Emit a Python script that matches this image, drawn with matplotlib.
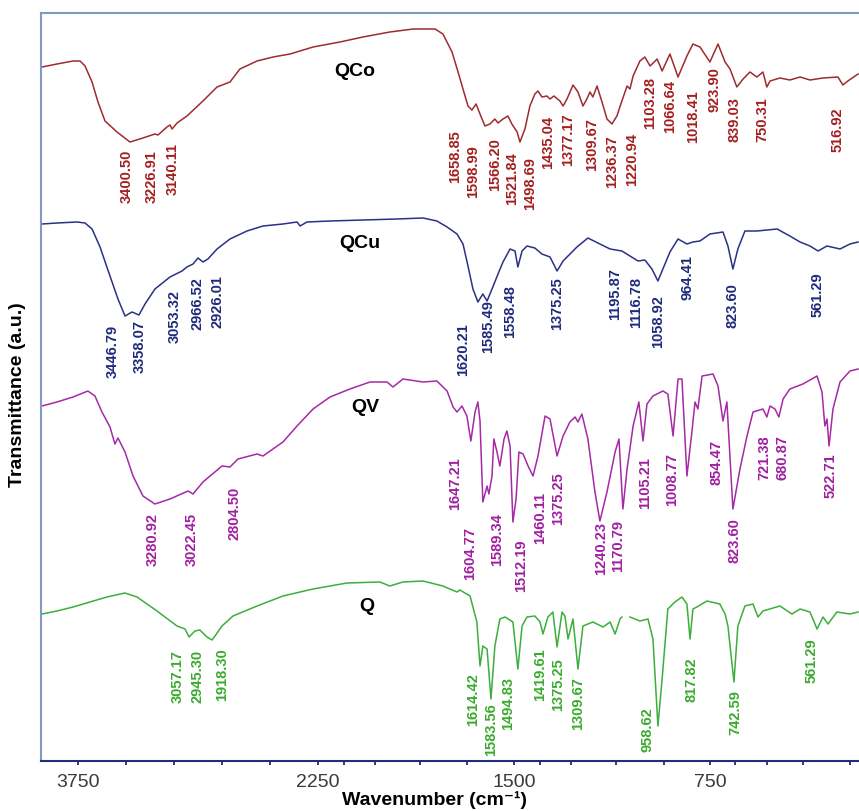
#!/usr/bin/env python3
# -*- coding: utf-8 -*-

"""
FTIR-Spektren Q, QV, QCu, QCo – gestapelt, Transmittance (a.u.) gegen Wellenzahl.
Die Wellenzahl-Achse ist oberhalb 2250 cm-1 gestaucht (wie im Original).
"""

import numpy as np
import matplotlib
matplotlib.use("Agg")
import matplotlib.pyplot as plt

nan = float("nan")

# --- Spektren (Wellenzahl cm-1, Transmittance a.u. inkl. Versatz) ---
QCo_wn = [3975, 3881, 3781, 3737, 3706, 3662, 3625, 3581, 3506, 3425, 3344, 3269, 3250, 3194, 3175,
          3162, 3131, 3069, 2969, 2881, 2800, 2738, 2631, 2531, 2425, 2281, 2166, 2078, 1975, 1886,
          1802, 1772, 1737, 1714, 1695, 1676, 1661, 1645, 1630, 1611, 1592, 1573, 1561, 1542, 1523,
          1508, 1488, 1477, 1458, 1439, 1420, 1408, 1393, 1374, 1362, 1347, 1324, 1312, 1297, 1274,
          1255, 1236, 1221, 1209, 1198, 1182, 1163, 1144, 1125, 1106, 1087, 1067, 1056, 1044, 1018,
          999, 979, 952, 933, 903, 872, 838, 815, 788, 750, 719, 692, 673, 647, 623,
          597, 570, 547, 532, 520, 482, 444, 405, 367, 317, 260, 241, 222, 183]
QCo_T = [694, 697, 700, 700, 695, 679, 659, 640, 629, 619, 623, 627, 626, 634, 636,
         632, 638, 645, 660, 674, 679, 692, 700, 704, 707, 714, 719, 724, 729, 732,
         732, 727, 709, 689, 672, 655, 651, 657, 647, 635, 637, 642, 638, 642, 645,
         637, 629, 619, 632, 655, 667, 670, 664, 665, 662, 665, 660, 655, 662, 676,
         669, 655, 662, 669, 664, 675, 659, 642, 637, 645, 660, 675, 672, 685, 700,
         704, 695, 702, 690, 707, 684, 705, 717, 714, 699, 717, 699, 692, 674, 682,
         689, 684, 689, 674, 680, 683, 681, 684, 681, 683, 684, 676, 680, 687]

QCu_wn = [3975, 3881, 3756, 3706, 3662, 3612, 3550, 3500, 3456, 3412, 3369, 3331, 3269, 3175, 3100,
          3069, 3031, 3000, 2969, 2938, 2881, 2800, 2694, 2594, 2469, 2381, 2362, 2319, 2204, 2078,
          1948, 1848, 1795, 1756, 1718, 1695, 1676, 1657, 1638, 1619, 1603, 1584, 1561, 1542, 1515,
          1496, 1485, 1469, 1450, 1420, 1393, 1362, 1335, 1312, 1259, 1217, 1171, 1132, 1087, 1056,
          1025, 999, 972, 949, 930, 903, 872, 838, 815, 788, 750, 700, 681, 662, 643,
          616, 570, 493, 444, 405, 367, 336, 302, 252, 214, 183]
QCu_T = [537, 538, 539, 538, 532, 514, 485, 462, 445, 449, 446, 457, 472, 484, 490,
         494, 497, 503, 499, 502, 512, 522, 530, 535, 537, 539, 535, 539, 540, 541,
         542, 543, 540, 534, 527, 517, 495, 472, 459, 467, 460, 472, 487, 499, 512,
         510, 494, 510, 515, 513, 507, 504, 490, 500, 514, 523, 517, 512, 510, 505,
         500, 501, 492, 480, 492, 509, 522, 517, 519, 520, 527, 529, 515, 492, 512,
         530, 530, 532, 525, 519, 515, 510, 515, 512, 517, 519]

QV_wn = [3975, 3881, 3781, 3688, 3644, 3600, 3550, 3519, 3500, 3456, 3406, 3344, 3269, 3175, 3062,
         3031, 2969, 2850, 2800, 2750, 2631, 2594, 2469, 2381, 2281, 2204, 2128, 2051, 1986, 1963,
         1925, 1848, 1795, 1756, 1733, 1718, 1699, 1680, 1665, 1649, 1638, 1630, 1619, 1603, 1596,
         1584, 1577, 1565, 1554, 1538, 1527, 1515, 1504, 1492, 1481, 1465, 1446, 1427, 1408, 1381,
         1362, 1335, 1312, 1286, 1266, 1255, 1240, 1217, 1190, 1171, 1144, 1113, 1098, 1083, 1067,
         1044, 1022, 1006, 991, 968, 930, 911, 891, 872, 857, 838, 819, 807, 796, 780,
         738, 719, 700, 685, 662, 635, 608, 585, 547, 532, 520, 501, 486, 470, 444,
         394, 340, 321, 310, 302, 294, 279, 252, 214, 183]
QV_T = [355, 359, 364, 370, 365, 349, 334, 317, 323, 309, 285, 265, 257, 262, 270,
        267, 279, 295, 294, 302, 307, 305, 319, 335, 352, 364, 372, 379, 379, 374,
        382, 379, 380, 370, 354, 349, 355, 345, 320, 349, 359, 340, 259, 275, 267,
        285, 322, 309, 295, 322, 330, 315, 239, 262, 309, 307, 295, 285, 305, 345,
        342, 305, 325, 339, 344, 339, 347, 322, 269, 240, 269, 309, 322, 252, 292,
        335, 359, 320, 357, 365, 370, 367, 325, 382, 382, 285, 329, 359, 352, 385,
        387, 375, 340, 359, 252, 292, 325, 349, 352, 344, 355, 352, 344, 362, 372,
        377, 385, 369, 335, 342, 315, 352, 379, 390, 392]

Q_wn = [3975, 3881, 3781, 3675, 3569, 3456, 3381, 3256, 3131, 3081, 3056, 3019, 2988, 2944, 2912,
        2894, 2850, 2781, 2631, 2469, 2281, 2139, 2013, 1975, 1925, 1848, 1772, 1718, 1707, 1668,
        1642, 1630, 1619, 1603, 1588, 1573, 1554, 1534, 1504, 1485, 1469, 1450, 1420, 1400, 1389,
        1370, 1351, 1335, 1316, 1305, 1293, 1274, 1255, 1236, 1198, 1159, 1132, 1113, 1094, 1087,
        1072, 1056, 1018, 987, 968, 949, 933, 911, 884, 857, 838, 826, 815, 800, 761,
        712, 692, 681, 658, 643, 616, 585, 566, 547, 482, 436, 405, 367, 340, 317,
        298, 264, 214, 183]
Q_T = [147, 150, 154, 159, 164, 168, 164, 150, 135, 132, 124, 130, 131, 124, 121,
       125, 135, 145, 155, 165, 172, 178, 179, 175, 179, 180, 175, 169, 171, 165,
       139, 95, 115, 112, 62, 115, 142, 144, 139, 92, 135, 144, 145, 139, 127,
       144, 149, 114, 149, 145, 122, 142, 92, 135, 139, 134, 139, 127, 142, 144,
       nan, 144, 140, 142, 122, 35, 82, 152, 159, 164, 157, 122, 152, 154, 160,
       157, 147, 135, 79, 135, 155, 157, 144, 150, 155, 147, 152, 149, 132, 144,
       137, 149, 147, 149]

# --- Peak-Beschriftungen (Text, Position x in cm-1, Oberkante y) ---
QCo_lbl = ["3400.50", "3226.91", "3140.11", "1658.85", "1598.99", "1566.20", "1521.84", "1498.69",
           "1435.04", "1377.17", "1309.67", "1236.37", "1220.94", "1103.28", "1066.64", "1018.41",
           "923.90", "839.03", "750.31", "516.92"]
QCo_lx = [3444, 3287, 3156, 1726, 1657, 1573, 1508, 1439, 1370, 1293, 1201, 1125, 1048, 979, 903, 815,
          731, 654, 551, 260]
QCo_ly = [612, 612, 619, 632, 617, 624, 610, 605, 646, 649, 644, 627, 629, 685, 682, 672, 695, 665, 665, 655]

QCu_lbl = ["3446.79", "3358.07", "3053.32", "2966.52", "2926.01", "1620.21", "1585.49", "1558.48",
           "1375.25", "1195.87", "1116.78", "1058.92", "964.41", "823.60", "561.29"]
QCu_lx = [3531, 3363, 3144, 3006, 2875, 1695, 1599, 1515, 1335, 1113, 1033, 949, 834, 662, 336]
QCu_ly = [437, 442, 472, 485, 487, 439, 462, 477, 485, 494, 485, 467, 507, 479, 490]

QV_lbl = ["3280.92", "3022.45", "2804.50", "1647.21", "1604.77", "1589.34", "1512.19", "1460.11",
          "1375.25", "1240.23", "1170.79", "1105.21", "1008.77", "854.47", "823.60", "721.38",
          "680.87", "522.71"]
QV_lx = [3281, 3038, 2769, 1726, 1668, 1565, 1473, 1400, 1332, 1167, 1102, 999, 895, 723, 654, 540, 474, 290]
QV_ly = [249, 249, 275, 305, 235, 249, 222, 270, 290, 240, 242, 305, 309, 322, 244, 327, 327, 309]

Q_lbl = ["3057.17", "2945.30", "1918.30", "1614.42", "1583.56", "1494.83", "1419.61", "1375.25",
         "1309.67", "958.62", "817.82", "742.59", "561.29"]
Q_lx = [3125, 3006, 2850, 1657, 1588, 1523, 1400, 1332, 1255, 987, 819, 654, 359]
Q_ly = [112, 112, 114, 89, 59, 85, 114, 104, 85, 55, 105, 72, 124]

# Namen der Spektren und ihre Position
names = ["QCo", "QCu", "QV", "Q"]
name_x = [2108, 2089, 2070, 2063]
name_y = [690, 518, 354, 155]

# Achsenticks
major_ticks = [3750, 2250, 1500, 750]
minor_ticks = [3450, 3150, 2850, 2550, 2150, 2030, 1860, 1680, 1400, 1280, 1110, 925, 655, 530, 395, 215]

BREAK = 2250.0   # oberhalb gestauchte Skala
SQUEEZE = 0.6125


def fwd(w):
    w = np.asarray(w, dtype=float)
    return np.where(w > BREAK, BREAK + (w - BREAK) * SQUEEZE, w)


def inv(s):
    s = np.asarray(s, dtype=float)
    return np.where(s > BREAK, BREAK + (s - BREAK) / SQUEEZE, s)


plt.rcParams["font.family"] = ["Liberation Sans", "DejaVu Sans"]

fig = plt.figure(figsize=(8.59, 8.12), dpi=100)
ax = fig.add_axes([41 / 859, 50 / 812, 839 / 859, 748 / 812])
ax.set_xscale("function", functions=(fwd, inv))

series = [
    (QCo_wn, QCo_T, "#9e2b2f", QCo_lbl, QCo_lx, QCo_ly, "#a3201f"),
    (QCu_wn, QCu_T, "#2b3185", QCu_lbl, QCu_lx, QCu_ly, "#1f2a7c"),
    (QV_wn, QV_T, "#a629a6", QV_lbl, QV_lx, QV_ly, "#a01fa0"),
    (Q_wn, Q_T, "#3cae3c", Q_lbl, Q_lx, Q_ly, "#3aab2e"),
]

for wn, T, col, lbl, lx, ly, tcol in series:
    ax.plot(wn, T, color=col, linewidth=1.1)
    for s, x, y in zip(lbl, lx, ly):
        ax.text(x, y, s, rotation=90, ha="center", va="top", fontsize=10.5,
                fontweight="bold", color=tcol)

for n, x, y in zip(names, name_x, name_y):
    ax.text(x, y, n, ha="center", va="center", fontsize=14, fontweight="bold", color="black")

ax.set_xlim(3981, 99)
ax.set_ylim(0, 748)

ax.set_xticks(major_ticks)
ax.set_xticklabels([str(t) for t in major_ticks])
ax.set_xticks(minor_ticks, minor=True)
ax.set_yticks([])
ax.tick_params(axis="x", which="both", direction="out", length=3, width=1.3,
               color="#1f2f7a", pad=6)
ax.tick_params(axis="x", which="major", labelsize=14, labelcolor="#3a3a3a")

for side in ("top", "left"):
    ax.spines[side].set_color("#7f9bc2")
    ax.spines[side].set_linewidth(1.5)
ax.spines["bottom"].set_color("#1f2f7a")
ax.spines["bottom"].set_linewidth(1.5)
ax.spines["right"].set_visible(False)

fig.text(435 / 859, 1 - 800 / 812, "Wavenumber (cm\u207b\u00b9)", ha="center", va="center",
         fontsize=14, fontweight="bold")
fig.text(18 / 859, 1 - 395 / 812, "Transmittance (a.u.)", ha="center", va="center",
         rotation=90, fontsize=14, fontweight="bold")

fig.savefig("out.png", dpi=100)
